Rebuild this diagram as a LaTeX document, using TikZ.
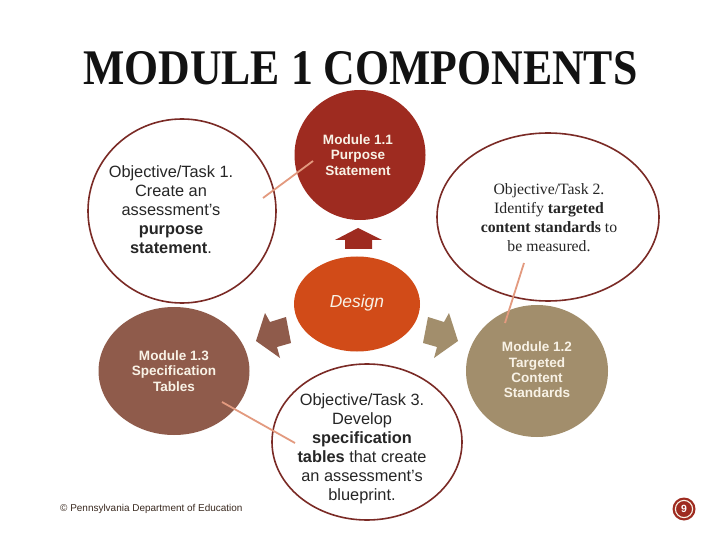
\documentclass[tikz,border=0pt]{standalone}
\usepackage{graphicx}
\usepackage{fontspec}
\setmainfont{Liberation Serif}
\setsansfont{Liberation Sans}
\usetikzlibrary{shapes.geometric}
\definecolor{darkred}{HTML}{9E2B20}
\definecolor{designc}{HTML}{D14B18}
\definecolor{brownm}{HTML}{8F5B4B}
\definecolor{tanm}{HTML}{A28E6C}
\definecolor{outlinec}{HTML}{7A2A25}
\definecolor{salmon}{HTML}{E39A7F}
\definecolor{cream}{HTML}{F8F2E6}
\definecolor{footc}{HTML}{3A2A20}
\begin{document}
\begin{tikzpicture}[x=1bp,y=-1bp,
  task/.style={ellipse, draw=outlinec, line width=1.6bp, fill=white, inner sep=0},
  modc/.style={ellipse, inner sep=0},
  modtext/.style={align=center, text=cream, inner sep=0, font=\sffamily\bfseries\fontsize{13.6}{15.4}\selectfont},
  tasktext/.style={align=center, text=black!85, inner sep=0, font=\sffamily\fontsize{16.4}{19}\selectfont},
  link/.style={draw=salmon, line width=1.8bp}]
\useasboundingbox (0,0) rectangle (720,540);
\fill[white] (0,0) rectangle (720,540);

% title
\node[inner sep=0, anchor=base west, text=black!93] (title) at (83,85) {\resizebox{554bp}{33bp}{\bfseries MODULE 1 COMPONENTS}};

% outlined task ellipses
\node[task, minimum width=188bp, minimum height=184bp] (t1) at (182,211) {};
\node[tasktext] (t1text) at (171,210) {Objective/Task 1.\\Create an\\assessment's\\\textbf{purpose}\\\textbf{statement}.};

\node[task, minimum width=222bp, minimum height=168bp] (t2) at (548,217) {};
\node[align=center, inner sep=0, text=black!85, font=\fontsize{15.8}{19}\selectfont] (t2text) at (549,218) {Objective/Task 2.\\Identify \textbf{targeted}\\\textbf{content standards} to\\be measured.};

\node[task, minimum width=190bp, minimum height=156bp] (t3) at (367,442) {};
\node[tasktext] (t3text) at (362,449) {Objective/Task 3.\\Develop\\\textbf{specification}\\\textbf{tables} that create\\an assessment's\\blueprint.};

% module circles
\node[modc, fill=darkred, minimum width=131bp, minimum height=130bp] (m11) at (360,155) {};
\node[modtext] (m11text) at (358,155) {Module 1.1\\Purpose\\Statement};

\node[modc, fill=designc, minimum width=126bp, minimum height=95bp] (des) at (357,304) {};
\node[inner sep=0, text=cream, font=\sffamily\itshape\fontsize{17.5}{20}\selectfont] (destext) at (357,303) {Design};

\node[modc, fill=brownm, minimum width=151bp, minimum height=128bp] (m13) at (174,371) {};
\node[modtext] (m13text) at (174,371) {Module 1.3\\Specification\\Tables};

\node[modc, fill=tanm, minimum width=142bp, minimum height=132bp] (m12) at (537,371) {};
\node[modtext] (m12text) at (537,370) {Module 1.2\\Targeted\\Content\\Standards};

% arrows
\fill[darkred] (358,228) -- (382,240) -- (372,240) -- (372,249) -- (345,249) -- (345,240) -- (335,240) -- cycle;
\fill[brownm] (286,317) -- (270,322) -- (265,313) -- (256,341) -- (273,353) -- (280,358) -- (277,347) -- (291,343) -- cycle;
\fill[tanm] (428,317) -- (444,322) -- (449,313) -- (458,341) -- (441,353) -- (434,358) -- (437,347) -- (423,343) -- cycle;

% connectors
\coordinate (a1) at (263,198); \coordinate (b1) at (313,161);
\coordinate (a2) at (524,263); \coordinate (b2) at (505,323);
\coordinate (a3) at (222,402); \coordinate (b3) at (295,443);
\draw[link] (a1) -- (b1);
\draw[link] (a2) -- (b2);
\draw[link] (a3) -- (b3);

% footer and page number
\node[anchor=west, inner sep=0, text=footc, font=\sffamily\fontsize{10}{12}\selectfont] (foot) at (60,509) {© Pennsylvania Department of Education};
\node[circle, fill=darkred, minimum size=23bp, inner sep=0] (pg) at (684,509) {};
\draw[cream, line width=1.1bp] (pg.center) circle (8.6bp);
\node[inner sep=0, text=white, font=\sffamily\bfseries\fontsize{10.5}{12}\selectfont] (pgnum) at (684,509) {9};
\end{tikzpicture}
\end{document}
